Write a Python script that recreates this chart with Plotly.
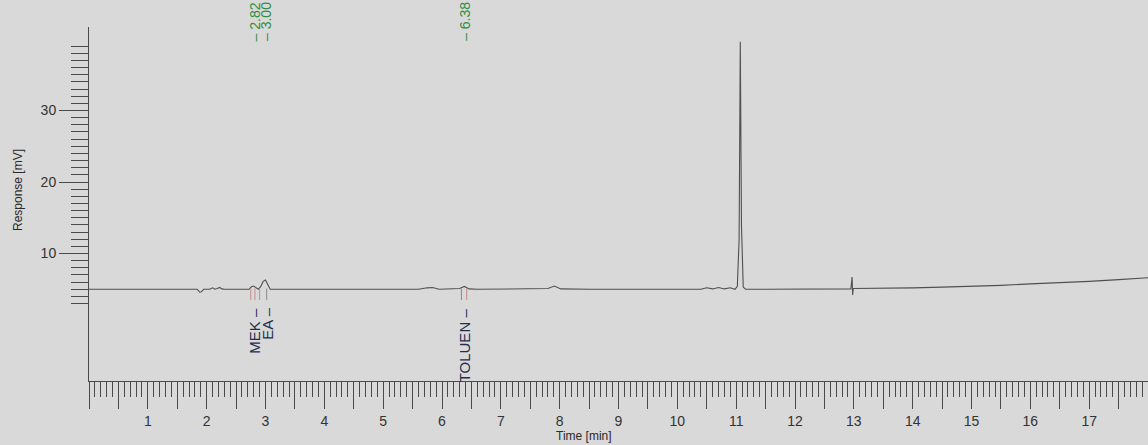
import plotly.graph_objects as go

# ---- chromatogram signal ----
time_min = [0.0, 0.5, 1.0, 1.5, 1.84, 1.88, 1.91, 1.95, 2.05, 2.10, 2.14, 2.18, 2.22, 2.26, 2.30,
            2.5, 2.72, 2.76, 2.80, 2.84, 2.88, 2.92, 2.96, 3.00, 3.04, 3.08, 3.3, 4.0, 4.5, 5.0,
            5.6, 5.75, 5.84, 5.95, 6.2, 6.30, 6.38, 6.46, 6.6, 7.0, 7.5, 7.8, 7.91, 8.02, 8.5,
            9.0, 9.5, 10.0, 10.4, 10.5, 10.6, 10.7, 10.8, 10.9, 10.98, 11.02, 11.05, 11.07,
            11.09, 11.12, 11.16, 11.5, 12.0, 12.5, 12.95, 12.97, 12.98, 12.99, 13.1, 13.5,
            14.0, 14.5, 15.0, 15.5, 16.0, 16.5, 17.0, 17.5, 18.0]
response_mv = [5.0, 5.0, 5.05, 5.0, 5.0, 4.6, 4.65, 5.0, 5.0, 5.2, 5.0, 5.1, 5.25, 5.05, 5.0,
               5.0, 5.0, 5.35, 5.45, 5.2, 5.0, 5.4, 6.1, 6.3, 5.6, 5.0, 5.0, 5.0, 5.0, 5.0,
               5.0, 5.2, 5.25, 5.0, 5.0, 5.1, 5.4, 5.05, 5.0, 5.0, 5.0, 5.1, 5.45, 5.05, 5.0,
               5.0, 5.0, 5.0, 5.0, 5.2, 5.05, 5.25, 5.05, 5.2, 5.0, 5.4, 12.0, 39.6,
               14.0, 5.3, 5.0, 5.0, 5.0, 5.05, 5.05, 6.7, 4.2, 5.1, 5.1, 5.15,
               5.2, 5.3, 5.4, 5.55, 5.75, 5.9, 6.1, 6.35, 6.6]

# ---- peak labels ----
peak_times = [2.82, 3.00, 6.38]
peak_time_labels = ["2.82", "3.00", "6.38"]
peak_names = ["MEK", "EA", "TOLUEN"]
peak_name_times = [2.80, 3.02, 6.38]

# ---- integration event markers ----
event_times = [2.75, 2.82, 2.90, 3.02, 6.33, 6.42]
event_colors = ["#c98a8a", "#c98a8a", "#c98a8a", "#8a8a8a", "#8a8a8a", "#c98a8a"]
event_top = 5.1
event_bottom = 3.5

# ---- axis ticks ----
y_major_vals = [5, 10, 15, 20, 25, 30, 35]
y_major_text = ["", "10", "", "20", "", "30", ""]
y_minor_vals = list(range(3, 40))
x_major_vals = [i * 0.5 for i in range(0, 37)]
x_major_text = [str(int(v)) if (v == int(v) and 1 <= v <= 17) else "" for v in x_major_vals]

BG = "#d9d9d9"
AX = "#4a4a4a"
FONT = "Liberation Sans, Arial, sans-serif"

fig = go.Figure()
fig.add_trace(go.Scatter(x=time_min, y=response_mv, mode="lines",
                         line=dict(color="#505050", width=1.1), hoverinfo="skip",
                         showlegend=False))

for t, c in zip(event_times, event_colors):
    fig.add_trace(go.Scatter(x=[t, t], y=[event_top, event_bottom], mode="lines",
                             line=dict(color=c, width=1), showlegend=False, hoverinfo="skip"))

annotations = []
for t, lab in zip(peak_times, peak_time_labels):
    annotations.append(dict(x=t, xref="x", y=1.0 - 16 / 354, yref="paper",
                            text="\u2013 " + lab, textangle=-90, showarrow=False,
                            xanchor="center", yanchor="bottom",
                            font=dict(family=FONT, size=14, color="#2f8f3f")))
for t, name in zip(peak_name_times, peak_names):
    annotations.append(dict(x=t, xref="x", y=1.0 - 279 / 354, yref="paper",
                            text=name + " \u2013", textangle=-90, showarrow=False,
                            xanchor="center", yanchor="top",
                            font=dict(family=FONT, size=15, color="#1f2d4f")))

annotations.append(dict(x=8.42, xref="x", y=-55 / 354, yref="paper", text="Time [min]",
                        showarrow=False, xanchor="center", yanchor="middle",
                        font=dict(family=FONT, size=12, color="#2a2a2a")))
annotations.append(dict(x=-71 / 1059, xref="paper", y=(381 - 190) / 354, yref="paper",
                        text="Response [mV]", textangle=-90, showarrow=False,
                        xanchor="center", yanchor="middle",
                        font=dict(family=FONT, size=12, color="#2a2a2a")))

fig.update_layout(
    width=1148, height=445,
    margin=dict(l=89, r=0, t=27, b=64),
    paper_bgcolor=BG, plot_bgcolor=BG,
    showlegend=False,
    annotations=annotations,
    xaxis=dict(range=[0, 18], showgrid=False, zeroline=False,
               showline=True, linecolor=AX, linewidth=1,
               tickmode="array", tickvals=x_major_vals, ticktext=x_major_text,
               ticks="outside", ticklen=27, tickcolor=AX, tickwidth=1,
               minor=dict(dtick=0.1, tick0=0, ticks="outside", ticklen=15,
                          tickcolor=AX, tickwidth=1, showgrid=False),
               tickfont=dict(family=FONT, size=14, color="#333333")),
    yaxis=dict(range=[-7.83, 41.68], showgrid=False, zeroline=False,
               showline=True, linecolor=AX, linewidth=1,
               tickmode="array", tickvals=y_major_vals, ticktext=y_major_text,
               ticks="outside", ticklen=29, tickcolor=AX, tickwidth=1,
               minor=dict(tickmode="array", tickvals=y_minor_vals, ticks="outside",
                          ticklen=17, tickcolor=AX, tickwidth=1, showgrid=False),
               tickfont=dict(family=FONT, size=14, color="#333333")),
)

fig.write_html("out.html",
               config={"displayModeBar": False},
               post_script="document.body.style.margin='0';"
                           "document.body.style.background='#d9d9d9';")
